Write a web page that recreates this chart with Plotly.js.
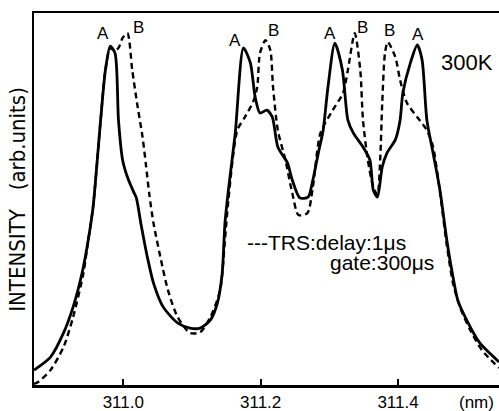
<!DOCTYPE html>
<html>
<head>
<meta charset="utf-8">
<script src="https://cdn.plot.ly/plotly-3.0.1.min.js"></script>
<style>html,body{margin:0;padding:0;background:#fff;}#chart{width:499px;height:411px;}</style>
</head>
<body>
<div id="chart"></div>
<script>
// Solid curve (time-integrated spectrum), wavelength in nm, intensity in arb. units
var wavelengthSolid = [310.870,310.894,310.913,310.927,310.940,310.949,310.956,310.967,310.974,310.981,310.988,310.993,310.999,311.006,311.015,311.019,311.026,311.035,311.044,311.058,311.079,311.097,311.112,311.127,311.137,311.144,311.148,311.153,311.163,311.175,311.185,311.192,311.199,311.209,311.217,311.225,311.239,311.246,311.257,311.269,311.276,311.284,311.291,311.298,311.308,311.319,311.327,311.335,311.349,311.359,311.364,311.370,311.377,311.384,311.396,311.403,311.407,311.418,311.428,311.435,311.442,311.451,311.461,311.471,311.479,311.487,311.502,311.519,311.547];
var intensitySolid = [4.0,7.5,14.0,21.0,30.1,39.0,47.8,71.2,84.7,91.1,89.2,71.2,60.5,55.9,51.9,50.3,43.0,34.4,27.4,21.0,16.7,15.3,15.3,17.5,22.0,30.1,43.5,52.4,67.7,90.6,86.6,77.4,73.1,73.9,72.0,64.0,59.7,55.1,50.3,50.5,55.1,62.4,68.5,80.1,91.9,84.7,71.2,67.7,64.0,60.5,52.4,50.5,58.6,62.4,65.9,71.2,78.5,86.6,91.4,87.4,71.2,62.4,52.4,39.0,30.1,22.8,16.7,11.3,6.2];

// Dashed curve (TRS: delay 1 µs, gate 300 µs)
var wavelengthTRS = [310.870,310.876,310.894,310.913,310.927,310.942,310.949,310.956,310.967,310.974,310.981,310.987,310.993,310.999,311.006,311.013,311.020,311.028,311.033,311.038,311.044,311.054,311.065,311.079,311.097,311.112,311.127,311.141,311.148,311.153,311.166,311.177,311.189,311.195,311.199,311.207,311.214,311.218,311.225,311.236,311.246,311.255,311.268,311.276,311.287,311.305,311.320,311.327,311.337,311.345,311.349,311.356,311.364,311.370,311.374,311.377,311.381,311.385,311.396,311.403,311.413,311.428,311.442,311.451,311.461,311.471,311.480,311.490,311.505,311.522,311.547];
var intensityTRS = [0.3,0.8,4.0,10.2,18.3,30.1,39.0,47.8,71.2,84.7,90.6,89.8,90.6,93.3,94.6,84.7,75.8,66.7,59.1,51.1,43.5,34.4,25.5,18.3,14.0,14.2,18.3,25.5,39.0,49.7,68.5,72.0,76.1,80.1,89.2,92.7,90.1,80.1,68.5,60.5,51.6,45.7,46.2,53.2,67.7,73.9,78.5,84.7,94.6,84.7,71.2,60.5,53.2,51.1,60.5,75.8,89.2,92.2,88.2,82.0,75.8,72.0,68.5,64.0,51.9,37.6,27.4,21.0,14.8,9.4,4.6];

var tickValues = [311.0, 311.2, 311.4];
var tickLabels = ['311.0', '311.2', '311.4'];

var peakLabels = ['A','B','A','B','A','B','B','A'];
var peakLabelX = [310.971,311.022,311.163,311.218,311.301,311.348,311.388,311.429];
var peakLabelY = [94.6,96.0,92.7,95.4,94.6,96.0,95.4,94.1];

var FONT = 'Liberation Sans, Arial, sans-serif';

var traces = [
  {x: wavelengthSolid, y: intensitySolid, mode: 'lines', type: 'scatter',
   line: {color: '#000', width: 2.8, shape: 'spline', smoothing: 0.7}, hoverinfo: 'skip'},
  {x: wavelengthTRS, y: intensityTRS, mode: 'lines', type: 'scatter',
   line: {color: '#000', width: 2.4, dash: '6px,4px', shape: 'spline', smoothing: 0.7}, hoverinfo: 'skip'}
];

var annotations = peakLabels.map(function(t, i) {
  return {x: peakLabelX[i], y: peakLabelY[i], xref: 'x', yref: 'y', text: t, showarrow: false,
          font: {family: FONT, size: 17, color: '#000'}, xanchor: 'center', yanchor: 'middle'};
});
annotations.push(
  {xref: 'paper', yref: 'paper', x: 0.931, y: 0.868, text: '300K', showarrow: false,
   font: {family: FONT, size: 22, color: '#000'}, xanchor: 'center', yanchor: 'middle'},
  {xref: 'paper', yref: 'paper', x: 0.454, y: 0.384, text: '---TRS:delay:1μs', showarrow: false,
   font: {family: FONT, size: 21, color: '#000'}, xanchor: 'left', yanchor: 'middle'},
  {xref: 'paper', yref: 'paper', x: 0.632, y: 0.328, text: 'gate:300μs', showarrow: false,
   font: {family: FONT, size: 21, color: '#000'}, xanchor: 'left', yanchor: 'middle'},
  {xref: 'paper', yref: 'paper', x: 0.951, y: -0.046, text: '(nm)', showarrow: false,
   font: {family: FONT, size: 17, color: '#000'}, xanchor: 'center', yanchor: 'middle'},
  {xref: 'paper', yref: 'paper', x: -0.037, y: 0.5, text: 'INTENSITY   (arb.units)', showarrow: false, textangle: -90,
   font: {family: 'Liberation Sans Narrow, DejaVu Sans Condensed, Arial Narrow, sans-serif', size: 22, color: '#000'},
   xanchor: 'center', yanchor: 'middle'}
);

var layout = {
  width: 499, height: 411,
  margin: {l: 34, r: 0, t: 13, b: 26, pad: 0},
  paper_bgcolor: '#fff', plot_bgcolor: '#fff',
  showlegend: false,
  xaxis: {range: [310.870, 311.547], tickvals: tickValues, ticktext: tickLabels,
          ticks: 'inside', ticklen: 6, tickwidth: 2, tickcolor: '#000',
          showline: true, linecolor: '#000', linewidth: 2.5, mirror: true,
          showgrid: false, zeroline: false,
          tickfont: {family: FONT, size: 17, color: '#000'}},
  yaxis: {range: [0, 100], showticklabels: false, ticks: '',
          showline: true, linecolor: '#000', linewidth: 2.5,
          showgrid: false, zeroline: false},
  annotations: annotations
};

Plotly.newPlot('chart', traces, layout, {displayModeBar: false, staticPlot: true});
</script>
</body>
</html>
